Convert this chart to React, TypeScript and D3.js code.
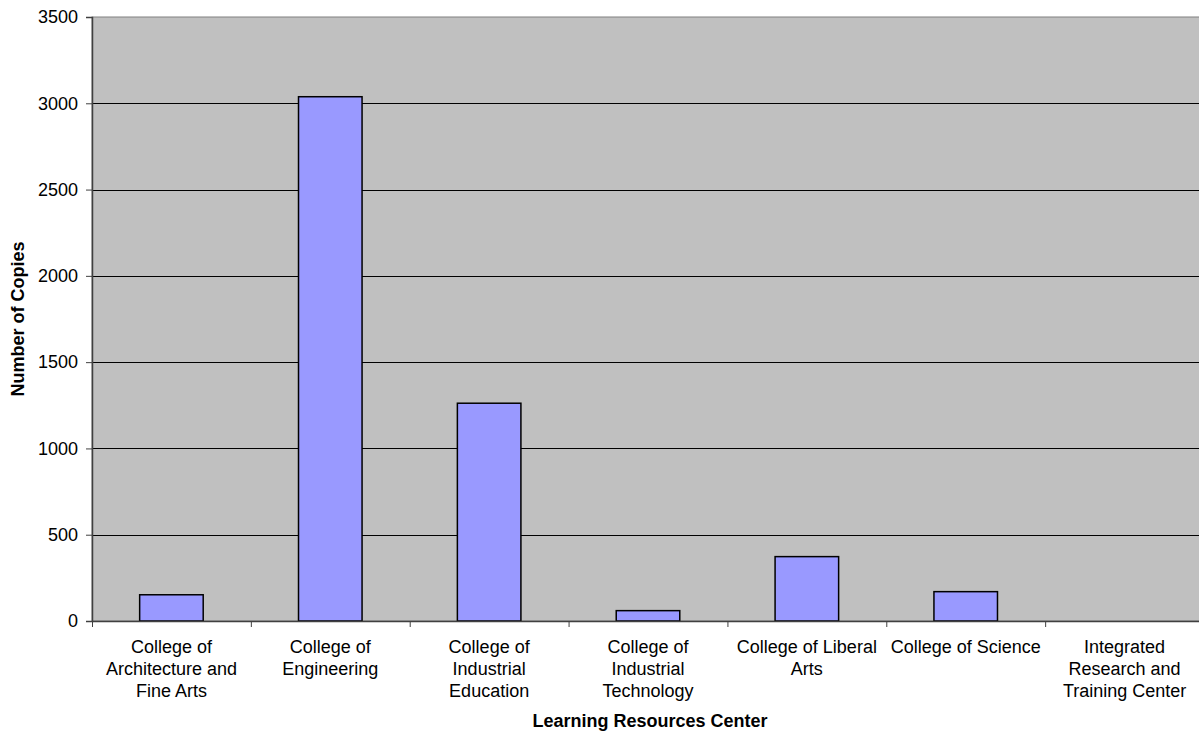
import * as d3 from 'd3';
import { useRef, useEffect } from 'react';

const categories = [
    'College of Architecture and Fine Arts',
    'College of Engineering',
    'College of Industrial Education',
    'College of Industrial Technology',
    'College of Liberal Arts',
    'College of Science',
    'Integrated Research and Training Center',
];

// label lines as wrapped in the original chart
const categoryLines = [
    ['College of', 'Architecture and', 'Fine Arts'],
    ['College of', 'Engineering'],
    ['College of', 'Industrial', 'Education'],
    ['College of', 'Industrial', 'Technology'],
    ['College of Liberal', 'Arts'],
    ['College of Science'],
    ['Integrated', 'Research and', 'Training Center'],
];

const copies = [152, 3038, 1262, 60, 373, 170, 0];

const yTicks = [0, 500, 1000, 1500, 2000, 2500, 3000, 3500];

const W = 1199;
const H = 733;

export default function App() {
    const svgRef = useRef<SVGSVGElement>(null);

    useEffect(() => {
        if (!svgRef.current) return;
        const svg = d3.select(svgRef.current);
        svg.selectAll('*').remove();

        const left = 92, right = 1204, top = 17, bottom = 621;
        const font = "Arial, 'Liberation Sans', sans-serif";

        const x = d3.scaleBand<string>()
            .domain(categories)
            .range([left, right])
            .padding(0);

        const y = d3.scaleLinear()
            .domain([0, 3500])
            .range([bottom, top]);

        const rows = categories.map((c, i) => ({ cat: c, value: copies[i], lines: categoryLines[i] }));

        // plot background
        svg.append('rect')
            .attr('x', left)
            .attr('y', top)
            .attr('width', right - left)
            .attr('height', bottom - top)
            .attr('fill', '#c0c0c0')
            .attr('stroke', '#808080')
            .attr('stroke-width', 1);

        // gridlines
        svg.append('g')
            .selectAll('line')
            .data(yTicks.filter(t => t > 0 && t < 3500))
            .enter()
            .append('line')
            .attr('x1', left)
            .attr('x2', right)
            .attr('y1', d => Math.round(y(d)) + 0.5)
            .attr('y2', d => Math.round(y(d)) + 0.5)
            .attr('stroke', '#000')
            .attr('stroke-width', 1);

        // bars
        const bw = x.bandwidth() * 0.4;
        svg.append('g')
            .selectAll('rect')
            .data(rows.filter(r => r.value > 0))
            .enter()
            .append('rect')
            .attr('x', d => (x(d.cat) || 0) + (x.bandwidth() - bw) / 2)
            .attr('y', d => y(d.value))
            .attr('width', bw)
            .attr('height', d => bottom - y(d.value))
            .attr('fill', '#9999ff')
            .attr('stroke', '#000')
            .attr('stroke-width', 1.5);

        // y axis
        const yAxis = svg.append('g')
            .attr('transform', `translate(${left},0)`)
            .call(d3.axisLeft(y).tickValues(yTicks).tickFormat(d3.format('d')).tickSize(6).tickPadding(8));
        yAxis.select('.domain').attr('stroke', '#404040').attr('stroke-width', 1.5);
        yAxis.selectAll('.tick line').attr('stroke', '#404040');
        yAxis.selectAll('text')
            .attr('font-family', font)
            .attr('font-size', 18)
            .attr('fill', '#000');

        // x axis
        const xAxis = svg.append('g')
            .attr('transform', `translate(0,${bottom})`)
            .call(d3.axisBottom(x).tickSize(0).tickFormat(() => ''));
        xAxis.select('.domain').attr('stroke', '#404040').attr('stroke-width', 1.5);

        // category boundary ticks
        svg.append('g')
            .selectAll('line')
            .data(categories)
            .enter()
            .append('line')
            .attr('x1', d => (x(d) || 0) + 0.5)
            .attr('x2', d => (x(d) || 0) + 0.5)
            .attr('y1', bottom)
            .attr('y2', bottom + 6)
            .attr('stroke', '#404040');

        // category labels
        const labels = svg.append('g')
            .selectAll('text')
            .data(rows)
            .enter()
            .append('text')
            .attr('y', 653)
            .attr('text-anchor', 'middle')
            .attr('font-family', font)
            .attr('font-size', 18)
            .attr('fill', '#000');
        labels.each(function (d) {
            const t = d3.select(this);
            d.lines.forEach((line, j) => {
                t.append('tspan')
                    .attr('x', (x(d.cat) || 0) + x.bandwidth() / 2)
                    .attr('dy', j === 0 ? 0 : 22)
                    .text(line);
            });
        });

        // axis titles
        svg.append('text')
            .attr('x', 650)
            .attr('y', 727)
            .attr('text-anchor', 'middle')
            .attr('font-family', font)
            .attr('font-size', 18)
            .attr('font-weight', 'bold')
            .text('Learning Resources Center');

        svg.append('text')
            .attr('transform', `translate(24,${(top + bottom) / 2}) rotate(-90)`)
            .attr('text-anchor', 'middle')
            .attr('font-family', font)
            .attr('font-size', 18)
            .attr('font-weight', 'bold')
            .text('Number of Copies');
    }, []);

    return (
        <svg
            ref={svgRef}
            width={W}
            height={H}
            style={{ position: 'absolute', left: 0, top: 0, background: '#fff' }}
        />
    );
}
